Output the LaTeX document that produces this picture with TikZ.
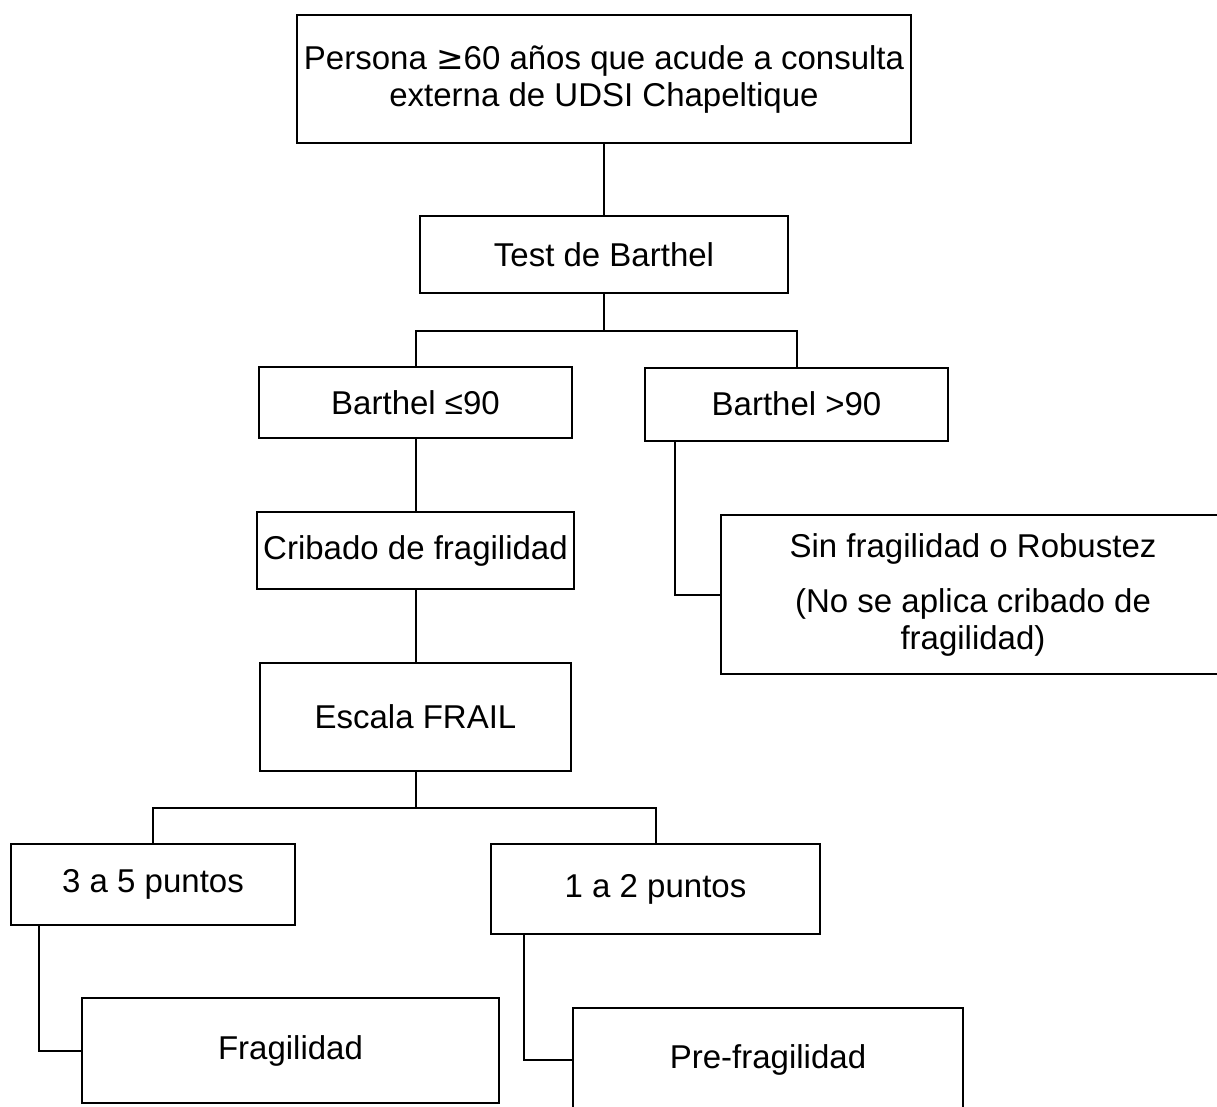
\documentclass[tikz,border=0pt]{standalone}
\usepackage{fontspec}
\setmainfont{Liberation Sans}
\newfontfamily\symfont{DejaVu Sans}
\usetikzlibrary{calc}
\begin{document}
\begin{tikzpicture}[x=1pt,y=-1pt,
  box/.style={draw=black, line width=2pt, fill=white, align=center, inner sep=0pt,
    font=\fontsize{33}{37}\selectfont},
  link/.style={draw=black, line width=2pt}]
\useasboundingbox (0,0) rectangle (1217,1106);
\clip (0,0) rectangle (1217,1106);

% boxes
\node[box, minimum width=614pt, minimum height=128pt] (top) at (604,79)
  {Persona {\symfont ≥}60 años que acude a consulta\\externa de UDSI Chapeltique};
\node[box, minimum width=368pt, minimum height=77pt] (test) at (604,254.5) {Test de Barthel};
\node[box, minimum width=313pt, minimum height=71pt] (b1) at (415.5,402.5) {Barthel ≤90};
\node[box, minimum width=303pt, minimum height=73pt] (b2) at (796.5,404) {Barthel >90};
\node[box, minimum width=317pt, minimum height=77pt] (crib) at (415.5,550.5) {Cribado de fragilidad};
\node[box, minimum width=504pt, minimum height=159pt] (sin) at (973,594.5)
  {Sin fragilidad o Robustez\\[18pt](No se aplica cribado de\\fragilidad)};
\node[box, minimum width=311pt, minimum height=108pt] (frail) at (415.5,717) {Escala FRAIL};
\node[box, minimum width=284pt, minimum height=81pt] (p35) at (153,884.5) {3 a 5 puntos};
\node[box, minimum width=329pt, minimum height=90pt] (p12) at (655.5,889) {1 a 2 puntos};
\node[box, minimum width=417pt, minimum height=105pt] (frag) at (290.5,1050.5) {Fragilidad};
\node[box, minimum width=390pt, minimum height=104pt] (pre) at (768,1060) {Pre-fragilidad};

% connectors
\draw[link] (top.south) -- (test.north);
\coordinate (j1) at ($(test.south)+(0,37)$);
\draw[link] (test.south) -- (j1);
\draw[link] (b1.north) |- (j1) -| (b2.north);
\draw[link] (b1.south) -- (crib.north);
\draw[link] (crib.south) -- (frail.north);
\draw[link] ($(b2.south west)+(31,0)$) |- (sin.west);
\coordinate (j2) at ($(frail.south)+(0,36)$);
\draw[link] (frail.south) -- (j2);
\draw[link] (p35.north) |- (j2) -| (p12.north);
\draw[link] ($(p35.south west)+(29,0)$) |- (frag.west);
\draw[link] ($(p12.south west)+(34,0)$) |- (pre.west);
\end{tikzpicture}
\end{document}
